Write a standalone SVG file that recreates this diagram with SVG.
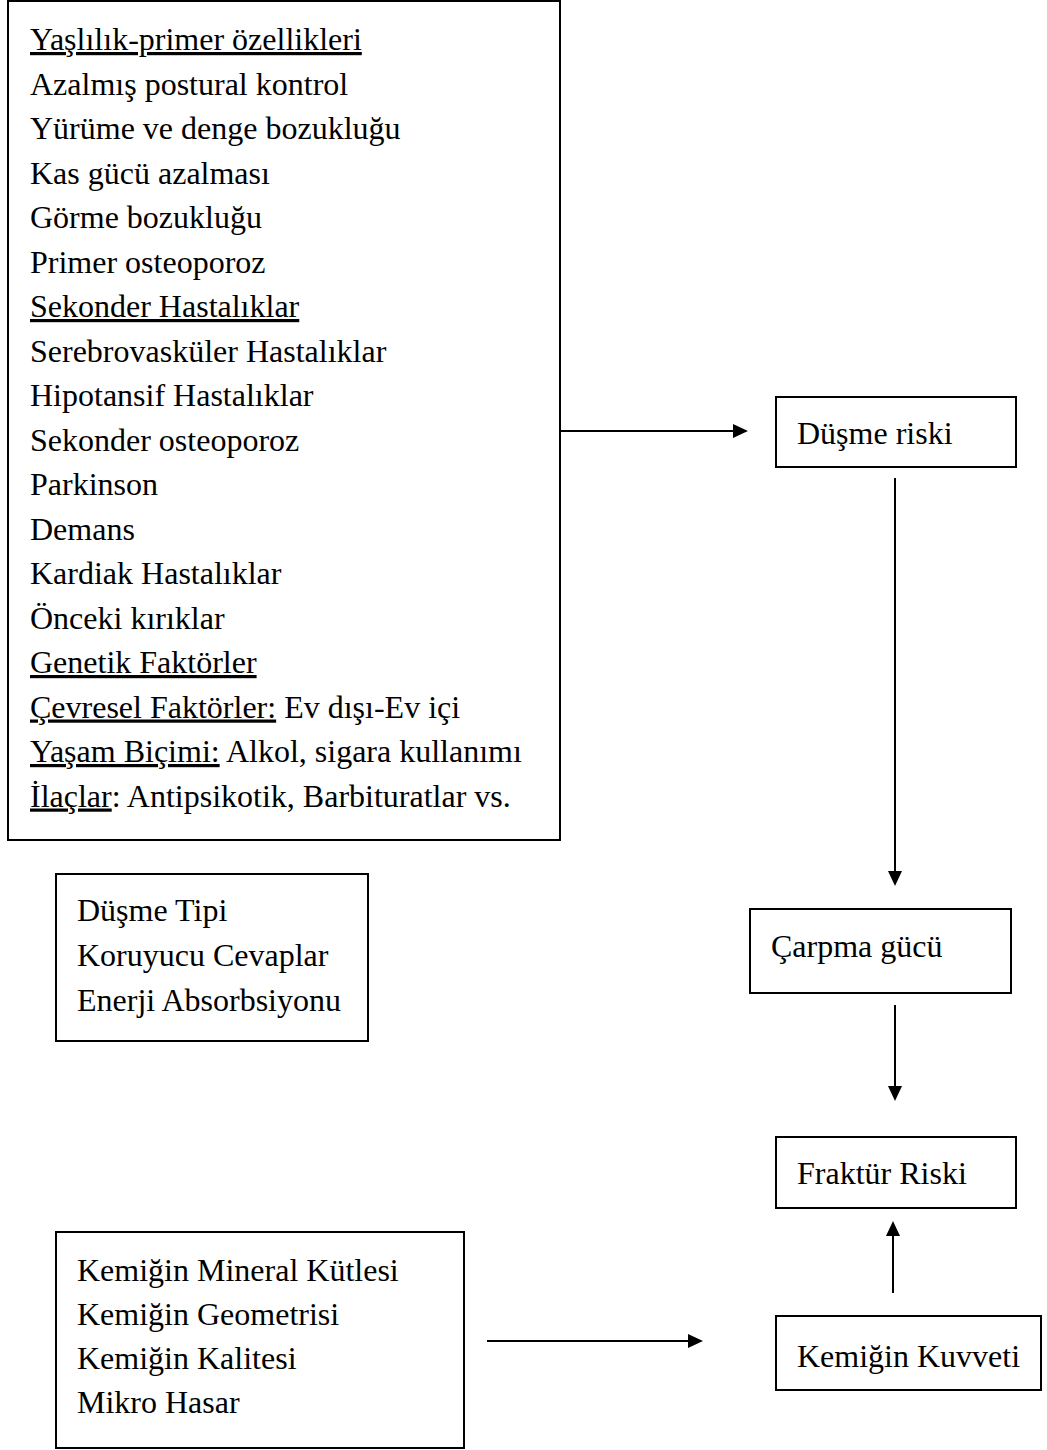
<svg xmlns="http://www.w3.org/2000/svg" width="1047" height="1450" viewBox="0 0 1047 1450">
<style>
.box{fill:#fff;stroke:#000;stroke-width:2}
.t{font-family:"Liberation Serif","Times New Roman",serif;font-size:32px;fill:#000}
.u{text-decoration:underline}
.c{stroke:#000;stroke-width:2;fill:none}
.ah{fill:#000;stroke:none}
</style>
<rect width="1047" height="1450" fill="#fff"/>
<g id="risk-factors">
<rect class="box" x="8" y="1" width="552" height="839"/>
<text class="t" x="30" y="50"><tspan class="u">Yaşlılık-primer özellikleri</tspan></text>
<text class="t" x="30" y="94.5">Azalmış postural kontrol</text>
<text class="t" x="30" y="139">Yürüme ve denge bozukluğu</text>
<text class="t" x="30" y="183.5">Kas gücü azalması</text>
<text class="t" x="30" y="228">Görme bozukluğu</text>
<text class="t" x="30" y="272.5">Primer osteoporoz</text>
<text class="t" x="30" y="317"><tspan class="u">Sekonder Hastalıklar</tspan></text>
<text class="t" x="30" y="361.5">Serebrovasküler Hastalıklar</text>
<text class="t" x="30" y="406">Hipotansif Hastalıklar</text>
<text class="t" x="30" y="450.5">Sekonder osteoporoz</text>
<text class="t" x="30" y="495">Parkinson</text>
<text class="t" x="30" y="539.5">Demans</text>
<text class="t" x="30" y="584">Kardiak Hastalıklar</text>
<text class="t" x="30" y="628.5">Önceki kırıklar</text>
<text class="t" x="30" y="673"><tspan class="u">Genetik Faktörler</tspan></text>
<text class="t" x="30" y="717.5"><tspan class="u">Çevresel Faktörler:</tspan> Ev dışı-Ev içi</text>
<text class="t" x="30" y="762"><tspan class="u">Yaşam Biçimi:</tspan> Alkol, sigara kullanımı</text>
<text class="t" x="30" y="806.5"><tspan class="u">İlaçlar</tspan>: Antipsikotik, Barbituratlar vs.</text>
</g>
<g id="dusme-riski">
<rect class="box" x="776" y="397" width="240" height="70"/>
<text class="t" x="797" y="444">Düşme riski</text>
</g>
<g id="dusme-tipi">
<rect class="box" x="56" y="874" width="312" height="167"/>
<text class="t" x="77" y="921">Düşme Tipi</text>
<text class="t" x="77" y="966">Koruyucu Cevaplar</text>
<text class="t" x="77" y="1011">Enerji Absorbsiyonu</text>
</g>
<g id="carpma-gucu">
<rect class="box" x="750" y="909" width="261" height="84"/>
<text class="t" x="771" y="957">Çarpma gücü</text>
</g>
<g id="fraktur-riski">
<rect class="box" x="776" y="1137" width="240" height="71"/>
<text class="t" x="797" y="1184">Fraktür Riski</text>
</g>
<g id="kemik-faktorleri">
<rect class="box" x="56" y="1232" width="408" height="216"/>
<text class="t" x="77" y="1281">Kemiğin Mineral Kütlesi</text>
<text class="t" x="77" y="1325">Kemiğin Geometrisi</text>
<text class="t" x="77" y="1369">Kemiğin Kalitesi</text>
<text class="t" x="77" y="1413">Mikro Hasar</text>
</g>
<g id="kemigin-kuvveti">
<rect class="box" x="776" y="1316" width="265" height="74"/>
<text class="t" x="797" y="1367">Kemiğin Kuvveti</text>
</g>
<g id="connectors">
<line class="c" x1="560" y1="431" x2="735" y2="431"/>
<polygon class="ah" points="748,431 733,424 733,438"/>
<line class="c" x1="895" y1="478" x2="895" y2="872"/>
<polygon class="ah" points="895,886 888,871 902,871"/>
<line class="c" x1="895" y1="1005" x2="895" y2="1088"/>
<polygon class="ah" points="895,1101 888,1086 902,1086"/>
<line class="c" x1="893" y1="1293" x2="893" y2="1234"/>
<polygon class="ah" points="893,1221 886,1236 900,1236"/>
<line class="c" x1="487" y1="1341" x2="690" y2="1341"/>
<polygon class="ah" points="703,1341 688,1334 688,1348"/>
</g>
</svg>
